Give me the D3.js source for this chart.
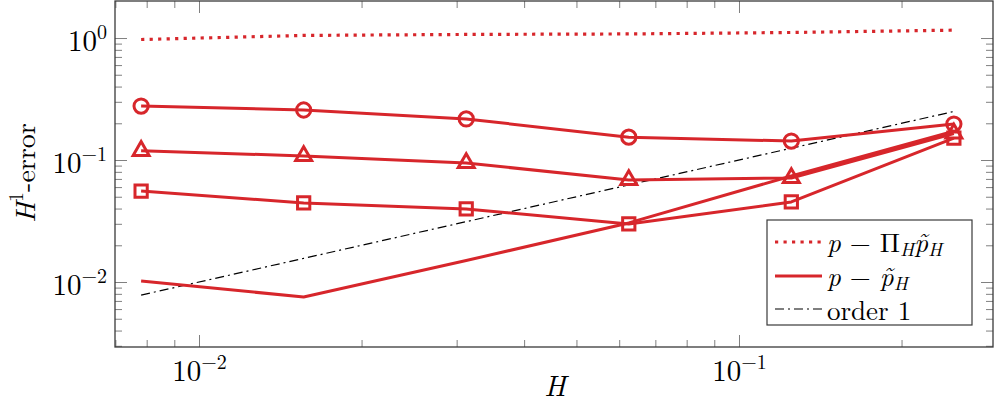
<!DOCTYPE html>
<html><head><meta charset="utf-8">
<script src="https://cdn.jsdelivr.net/npm/d3@7"></script>
<style>body{margin:0;background:#fff} svg{display:block}</style>
</head><body><svg id="c" width="995" height="404"></svg>
<script>
// ---- data ----
const H = [0.0078125, 0.015625, 0.03125, 0.0625, 0.125, 0.25];
const projErr     = [0.972, 1.05, 1.07, 1.08, 1.11, 1.16];
const errCircle   = [0.277, 0.257, 0.217, 0.154, 0.143, 0.197];
const errTriangle = [0.119, 0.108, 0.0945, 0.0686, 0.0712, 0.165];
const errSquare   = [0.0557, 0.0445, 0.0397, 0.0299, 0.0453, 0.151];
const errPlain    = [0.0102, 0.00753, 0.0150, 0.0305, 0.074, 0.172];
const order1      = [0.0078125, 0.015625, 0.03125, 0.0625, 0.125, 0.25];
const xMajor = [0.01, 0.1];
const xMinor = [0.007,0.008,0.009,0.02,0.03,0.04,0.05,0.06,0.07,0.08,0.09,0.2];
const yMajor = [0.01, 0.1, 1];
const yMinor = [0.003,0.004,0.005,0.006,0.007,0.008,0.009,0.02,0.03,0.04,0.05,0.06,0.07,0.08,0.09,0.2,0.3,0.4,0.5,0.6,0.7,0.8,0.9];
const xTickExp = {0.01:"−2", 0.1:"−1"};
const yTickExp = {0.01:"−2", 0.1:"−1", 1:"0"};
const legendItems = ["proj","err","order"];

// ---- layout ----
const L=115, R=993, T=1, B=347;
const RED = "#d7262b";
const FONT = "'Latin Modern Roman','CMU Serif','Liberation Serif',serif";
const svg = d3.select("#c");
const x = d3.scaleLog().domain([0.006989, 0.2954]).range([L, R]);
const y = d3.scaleLog().domain([0.002933, 2.011]).range([B, T]);

// axes (inward ticks on all four sides)
function styleAxis(g){ g.select(".domain").remove(); g.selectAll(".tick line").attr("stroke","#808080").attr("stroke-width",1); }
svg.append("g").attr("transform",`translate(0,${B})`).call(d3.axisBottom(x).tickValues(xMinor).tickSize(-7).tickFormat("")).call(styleAxis);
svg.append("g").attr("transform",`translate(0,${T})`).call(d3.axisTop(x).tickValues(xMinor).tickSize(-7).tickFormat("")).call(styleAxis);
svg.append("g").attr("transform",`translate(${L},0)`).call(d3.axisLeft(y).tickValues(yMinor).tickSize(-7).tickFormat("")).call(styleAxis);
svg.append("g").attr("transform",`translate(${R},0)`).call(d3.axisRight(y).tickValues(yMinor).tickSize(-7).tickFormat("")).call(styleAxis);

const gxB = svg.append("g").attr("transform",`translate(0,${B})`).call(d3.axisBottom(x).tickValues(xMajor).tickSize(-12).tickFormat("")).call(styleAxis);
svg.append("g").attr("transform",`translate(0,${T})`).call(d3.axisTop(x).tickValues(xMajor).tickSize(-12).tickFormat("")).call(styleAxis);
const gyL = svg.append("g").attr("transform",`translate(${L},0)`).call(d3.axisLeft(y).tickValues(yMajor).tickSize(-12).tickFormat("")).call(styleAxis);
svg.append("g").attr("transform",`translate(${R},0)`).call(d3.axisRight(y).tickValues(yMajor).tickSize(-12).tickFormat("")).call(styleAxis);

// tick labels
gxB.selectAll(".tick").each(function(d){
  const t = d3.select(this).append("text").attr("y", 381-B).attr("text-anchor","middle")
    .attr("fill","#000").attr("font-family",FONT).attr("font-size",29);
  t.append("tspan").text("10");
  t.append("tspan").attr("dy",-12).attr("font-size",20).text(xTickExp[d]);
});
gyL.selectAll(".tick").each(function(d){
  const t = d3.select(this).append("text").attr("x",107-L).attr("y",12).attr("text-anchor","end")
    .attr("fill","#000").attr("font-family",FONT).attr("font-size",29);
  t.append("tspan").text("10");
  t.append("tspan").attr("dy",-12).attr("font-size",20).text(yTickExp[d]);
});

// frame
svg.append("rect").attr("x",L).attr("y",T).attr("width",R-L).attr("height",B-T)
  .attr("fill","none").attr("stroke","#3a3a3a").attr("stroke-width",1.3);

// axis labels
svg.append("text").attr("x",555).attr("y",396).attr("text-anchor","middle")
  .attr("font-family",FONT).attr("font-size",29).attr("font-style","italic").text("H");
const yl = svg.append("text").attr("transform","translate(35,173) rotate(-90)").attr("text-anchor","middle")
  .attr("font-family",FONT).attr("font-size",28);
yl.append("tspan").attr("font-style","italic").text("H");
yl.append("tspan").attr("dy",-12).attr("font-size",20).text("1");
yl.append("tspan").attr("dy",12).text("-error");

// series
const plot = svg.append("g");
const line = d3.line().x(d=>x(d[0])).y(d=>y(d[1]));
const zipH = arr => H.map((h,i)=>[h,arr[i]]);

plot.append("path").datum(zipH(order1)).attr("d",line).attr("fill","none")
  .attr("stroke","#000").attr("stroke-width",1.2).attr("stroke-dasharray","9,4,2,4");
plot.append("path").datum(zipH(projErr)).attr("d",line).attr("fill","none")
  .attr("stroke",RED).attr("stroke-width",3.2).attr("stroke-dasharray","3.2,5.3");

const solid = [
  {vals: errCircle, sym: d3.symbolCircle, size: 160},
  {vals: errTriangle, sym: d3.symbolTriangle, size: 110},
  {vals: errSquare, sym: d3.symbolSquare, size: 150},
  {vals: errPlain, sym: null}
];
solid.forEach(s=>{
  plot.append("path").datum(zipH(s.vals)).attr("d",line).attr("fill","none")
    .attr("stroke",RED).attr("stroke-width",3).attr("stroke-linejoin","round");
});
solid.forEach(s=>{
  if(!s.sym) return;
  plot.selectAll(null).data(zipH(s.vals)).enter().append("path")
    .attr("transform",d=>`translate(${x(d[0])},${y(d[1])})`)
    .attr("d",d3.symbol().type(s.sym).size(s.size))
    .attr("fill","none").attr("stroke",RED).attr("stroke-width",3);
});

// legend
const lg = svg.append("g");
lg.append("rect").attr("x",767).attr("y",220).attr("width",205).attr("height",105)
  .attr("fill","#fff").attr("stroke","#3a3a3a").attr("stroke-width",1.2);
const rowsY = [242, 276, 309];
legendItems.forEach((k,i)=>{
  const yy = rowsY[i];
  const ln = lg.append("line").attr("x1",775).attr("x2",822).attr("y1",yy).attr("y2",yy);
  if(k==="proj") ln.attr("stroke",RED).attr("stroke-width",3.2).attr("stroke-dasharray","3.2,5.3");
  else if(k==="err") ln.attr("stroke",RED).attr("stroke-width",3);
  else ln.attr("stroke","#000").attr("stroke-width",1.2).attr("stroke-dasharray","9,4,2,4");
  const t = lg.append("text").attr("x",827).attr("y",yy+10).attr("font-family",FONT).attr("font-size",27);
  if(k==="proj"){
    t.append("tspan").attr("font-style","italic").text("p");
    t.append("tspan").text(" − Π");
    t.append("tspan").attr("font-style","italic").attr("font-size",19).attr("dy",4).text("H");
    t.append("tspan").attr("font-style","italic").attr("dy",-4).text("p\u0303");
    t.append("tspan").attr("font-style","italic").attr("font-size",19).attr("dy",4).text("H");
  } else if(k==="err"){
    t.append("tspan").attr("font-style","italic").text("p");
    t.append("tspan").text(" − ");
    t.append("tspan").attr("font-style","italic").text("p\u0303");
    t.append("tspan").attr("font-style","italic").attr("font-size",19).attr("dy",4).text("H");
  } else {
    t.attr("y",yy+11).text("order 1");
  }
});
</script></body></html>
